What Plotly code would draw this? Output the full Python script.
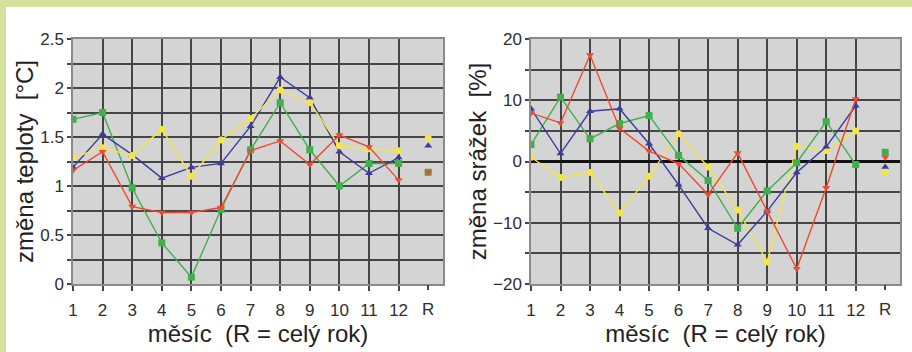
import plotly.graph_objects as go

months = list(range(1, 13))
year_pos = [13]
month_labels = ["1", "2", "3", "4", "5", "6", "7", "8", "9", "10", "11", "12"]
year_label = ["R"]

# temperature change [°C]  (12 months, then whole year R)
t_green = [1.68, 1.75, 0.98, 0.42, 0.07, 0.76, 1.37, 1.85, 1.37, 1.00, 1.23, 1.23, 1.14]
t_blue = [1.19, 1.53, 1.32, 1.08, 1.19, 1.23, 1.61, 2.11, 1.90, 1.35, 1.13, 1.29, 1.41]
t_yellow = [1.29, 1.39, 1.31, 1.58, 1.10, 1.47, 1.69, 1.98, 1.85, 1.41, 1.38, 1.36, 1.49]
t_red = [1.16, 1.35, 0.79, 0.73, 0.73, 0.78, 1.36, 1.46, 1.22, 1.52, 1.40, 1.06, 1.14]

# precipitation change [%]
p_green = [2.75, 10.5, 3.7, 6.2, 7.5, 1.0, -3.1, -10.9, -4.8, -0.2, 6.5, -0.5, 1.5]
p_red = [7.9, 6.3, 17.4, 5.4, 1.7, -0.35, -5.4, 1.4, -8.1, -17.5, -4.3, 10.2, 0.7]
p_blue = [8.6, 1.3, 8.2, 8.6, 2.9, -3.8, -10.9, -13.6, -8.1, -1.8, 2.4, 9.1, -0.9]
p_yellow = [0.7, -2.6, -1.8, -8.4, -2.4, 4.55, -0.9, -7.9, -16.4, 2.5, 1.8, 5.0, -1.8]

GREEN = "#3fb04a"
RED = "#ee4a30"
BLUE = "#3b3c9e"
YELLOW = "#f3e64a"
GRID = "#454545"
FONT = "Liberation Sans, Arial, sans-serif"
TICKCOL = "#2e2e2e"

series_t = [(t_green, GREEN, "square"), (t_blue, BLUE, "triangle-up"),
            (t_yellow, YELLOW, "circle"), (t_red, RED, "triangle-down")]
series_p = [(p_yellow, YELLOW, "circle"), (p_green, GREEN, "square"),
            (p_blue, BLUE, "triangle-up"), (p_red, RED, "triangle-down")]

fig = go.Figure()


def add_series(series, xa, xa_year, ya):
    for vals, col, sym in series:
        fig.add_trace(go.Scatter(
            x=months, y=vals[:12], xaxis=xa, yaxis=ya, mode="lines+markers",
            line=dict(color=col, width=1.4),
            marker=dict(symbol=sym, size=7, color=col),
            showlegend=False, hoverinfo="skip"))
        fig.add_trace(go.Scatter(
            x=year_pos, y=vals[12:], xaxis=xa_year, yaxis=ya, mode="markers",
            marker=dict(symbol=sym, size=7, color=col),
            showlegend=False, hoverinfo="skip"))


add_series(series_t, "x", "x3", "y")
add_series(series_p, "x2", "x4", "y2")

W, H = 912, 352
L_dom = [73 / W, 443 / W]
R_dom = [531 / W, 900 / W]
Y_dom = [(H - 284) / H, (H - 39) / H]

tickfont = dict(family=FONT, size=17, color=TICKCOL)
titlefont = dict(family=FONT, size=24, color="#222222")

xmonth = dict(range=[1, 13.5], tickmode="array", tickvals=months, ticktext=month_labels,
              showgrid=True, gridcolor=GRID, gridwidth=1.5, zeroline=False,
              ticks="outside", ticklen=5, tickcolor=GRID, tickwidth=1.5,
              ticklabelstandoff=5,
              showline=True, mirror=True, linecolor="#8a8a8a", linewidth=1.5,
              tickfont=tickfont, automargin=False,
              title=dict(text="měsíc  (R = celý rok)", standoff=4, font=titlefont))
xyear = dict(range=[1, 13.5], tickmode="array", tickvals=year_pos, ticktext=year_label,
             showgrid=False, zeroline=False, ticks="outside", ticklen=5,
             ticklabelstandoff=5,
             tickcolor=GRID, tickwidth=1.5, showline=False, tickfont=tickfont,
             automargin=False)

ycommon = dict(showgrid=True, gridcolor=GRID, gridwidth=1.5,
               ticks="outside", ticklen=4, tickcolor=GRID, tickwidth=1.5,
               showline=True, mirror=True, linecolor="#8a8a8a", linewidth=1.5,
               tickfont=tickfont, automargin=False)

fig.update_layout(
    width=W, height=H, margin=dict(l=0, r=0, t=0, b=0, autoexpand=False),
    paper_bgcolor="white", plot_bgcolor="#d4d4d4",
    xaxis=dict(domain=L_dom, anchor="y", **xmonth),
    xaxis3=dict(domain=L_dom, anchor="y", overlaying="x", **xyear),
    yaxis=dict(domain=Y_dom, anchor="x", range=[0, 2.5], dtick=0.5, zeroline=False,
               minor=dict(dtick=0.25, showgrid=True, gridcolor=GRID, gridwidth=1.5,
                          ticks="outside", ticklen=4, tickcolor=GRID),
               title=dict(text="změna teploty  [°C]", standoff=0, font=titlefont),
               **ycommon),
    xaxis2=dict(domain=R_dom, anchor="y2", **xmonth),
    xaxis4=dict(domain=R_dom, anchor="y2", overlaying="x2", **xyear),
    yaxis2=dict(domain=Y_dom, anchor="x2", range=[-20, 20], dtick=10,
                zeroline=True, zerolinecolor="#111111", zerolinewidth=2.5,
                minor=dict(dtick=5, showgrid=True, gridcolor=GRID, gridwidth=1.5,
                           ticks="outside", ticklen=4, tickcolor=GRID),
                title=dict(text="změna srážek  [%]", standoff=0, font=titlefont),
                **ycommon),
    shapes=[
        dict(type="rect", xref="paper", yref="paper", x0=0, x1=1,
             y0=(H - 7) / H, y1=1, fillcolor="#d3e29a", line=dict(width=0), layer="below"),
        dict(type="rect", xref="paper", yref="paper", x0=0, x1=6 / W,
             y0=0, y1=1, fillcolor="#d3e29a", line=dict(width=0), layer="below"),
    ],
)

fig.write_html("out.html", config={"displayModeBar": False},
               post_script="document.body.style.margin='0';")
